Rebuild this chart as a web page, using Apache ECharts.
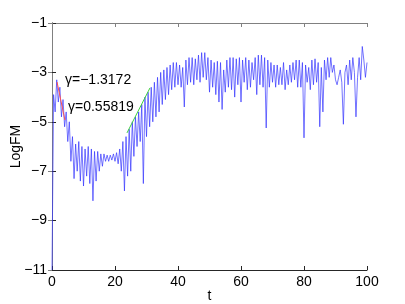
<!DOCTYPE html>
<html>
<head>
<meta charset="utf-8">
<script src="https://cdn.jsdelivr.net/npm/echarts@6/dist/echarts.min.js"></script>
<style>html,body{margin:0;padding:0;background:#fff}#c{width:405px;height:304px}</style>
</head>
<body>
<div id="c"></div>
<script>
// sampling grid step for the blue curve (t = index * tStep)
const tStep = 0.5;
// LogFM values at t = 0, 0.5, 1, ... 100
const logFM = [
-11,-3.9,-4.6,-3.3,-4.2,-3.6,-4.8,-4.1,-5.2,-4.6,
-5.8,-5.0,-6.6,-5.6,-7.3,-5.9,-7.0,-5.8,-7.4,-6.0,
-7.6,-6.1,-7.2,-6.0,-7.5,-6.1,-8.2,-6.2,-7.4,-6.2,
-7.0,-6.3,-6.8,-6.3,-6.6,-6.35,-6.6,-6.35,-6.55,-6.3,
-6.6,-6.25,-6.7,-6.1,-7.0,-5.8,-7.8,-5.6,-7.2,-5.3,
-7.0,-5.0,-6.4,-4.8,-6.0,-4.6,-5.8,-4.3,-7.5,-4.0,
-5.6,-3.8,-5.2,-3.6,-5.0,-3.4,-4.8,-3.2,-4.6,-3.0,
-4.3,-2.9,-4.1,-2.8,-3.9,-2.7,-3.7,-2.6,-3.6,-2.6,
-3.5,-2.7,-3.6,-2.8,-4.4,-2.5,-3.5,-2.4,-3.4,-2.4,
-3.5,-2.45,-3.3,-2.3,-3.4,-2.2,-3.2,-2.2,-3.3,-2.4,
-3.8,-2.5,-3.6,-2.6,-3.9,-2.55,-4.2,-2.6,-4.5,-2.9,
-3.8,-2.5,-3.6,-2.4,-3.7,-2.4,-4.0,-2.45,-3.5,-2.4,
-4.2,-2.5,-3.4,-2.4,-3.7,-2.5,-3.6,-2.6,-3.3,-2.4,
-3.9,-2.3,-3.5,-2.3,-3.6,-2.4,-5.25,-2.5,-3.6,-2.6,
-3.4,-2.7,-3.6,-2.7,-3.5,-2.8,-3.5,-2.6,-3.7,-2.9,
-3.5,-2.7,-3.4,-2.6,-3.3,-2.5,-3.6,-2.5,-3.6,-2.6,
-5.65,-2.7,-3.4,-2.8,-3.7,-2.5,-3.5,-2.45,-3.4,-2.6,
-5.2,-2.8,-4.6,-2.5,-3.3,-2.4,-3.2,-2.4,-3.0,-2.7,
-3.3,-3.5,-3.2,-2.9,-3.4,-5.1,-3.0,-2.7,-3.5,-2.5,
-3.3,-2.4,-3.0,-4.8,-3.2,-2.4,-3.3,-1.95,-2.5,-3.2,
-2.6
];
// fitted lines (end points)
const redFit = [[1.6, -3.39], [4.1, -4.93]];
const greenFit = [[23.8, -5.45], [31.1, -3.63]];
// annotations (left-middle anchor in data coordinates)
const annotations = [
  {text: 'γ=−1.3172', t: 4.1, y: -3.3},
  {text: 'γ=0.55819', t: 5.0, y: -4.4}
];

const blueData = logFM.map((v, i) => [i * tStep, v]);
const font = 'Liberation Sans, Arial, Helvetica, sans-serif';
const minus = v => String(v).replace('-', '\u2212');

const chart = echarts.init(document.getElementById('c'), null, {renderer: 'canvas'});
const baseAxis = {
  axisLine: {show: true, lineStyle: {color: '#262626', width: 1}},
  axisTick: {show: true, inside: true, length: 4, lineStyle: {color: '#262626'}},
  splitLine: {show: false},
  axisLabel: {color: '#000', fontSize: 14, fontFamily: font, formatter: minus}
};
chart.setOption({
  animation: false,
  backgroundColor: '#fff',
  grid: {left: 52, right: 38, top: 23, bottom: 34, containLabel: false, outerBoundsMode: 'none'},
  xAxis: [
    Object.assign({}, baseAxis, {type: 'value', min: 0, max: 100, interval: 20, position: 'bottom',
      name: 't', nameLocation: 'middle', nameGap: 19, nameMoveOverlap: false,
      nameTextStyle: {color: '#000', fontSize: 14, fontFamily: font},
      axisLabel: Object.assign({}, baseAxis.axisLabel, {margin: 5})}),
    Object.assign({}, baseAxis, {type: 'value', min: 0, max: 100, interval: 20, position: 'top',
      axisLine: {show: true, lineStyle: {color: '#808080'}},
      axisTick: {show: true, inside: true, length: 4, lineStyle: {color: '#808080'}},
      axisLabel: {show: false}})
  ],
  yAxis: [
    Object.assign({}, baseAxis, {type: 'value', min: -11, max: -1, interval: 2, position: 'left',
      name: 'LogFM', nameLocation: 'middle', nameGap: 29, nameRotate: 90, nameMoveOverlap: false,
      nameTextStyle: {color: '#000', fontSize: 14, fontFamily: font},
      axisLabel: Object.assign({}, baseAxis.axisLabel, {margin: 5})}),
    Object.assign({}, baseAxis, {type: 'value', min: -11, max: -1, interval: 2, position: 'right',
      axisLine: {show: true, lineStyle: {color: '#808080'}},
      axisTick: {show: true, inside: true, length: 4, lineStyle: {color: '#808080'}},
      axisLabel: {show: false}})
  ],
  series: [
    {type: 'line', data: blueData, showSymbol: false, symbol: 'none',
      lineStyle: {color: '#3030ff', width: 0.8, opacity: 0.85}, z: 2},
    {type: 'line', data: redFit, showSymbol: false, symbol: 'none',
      lineStyle: {color: '#ff5050', width: 1}, z: 3},
    {type: 'line', data: greenFit, showSymbol: false, symbol: 'none',
      lineStyle: {color: '#40d040', width: 1}, z: 3}
  ]
});
chart.setOption({
  graphic: annotations.map(a => {
    const p = chart.convertToPixel({xAxisIndex: 0, yAxisIndex: 0}, [a.t, a.y]);
    return {type: 'text', x: Math.round(p[0]), y: Math.round(p[1]), z: 100,
      style: {text: a.text, fill: '#000', font: '14px ' + font,
        textAlign: 'left', textVerticalAlign: 'middle'}};
  })
});
</script>
</body>
</html>
